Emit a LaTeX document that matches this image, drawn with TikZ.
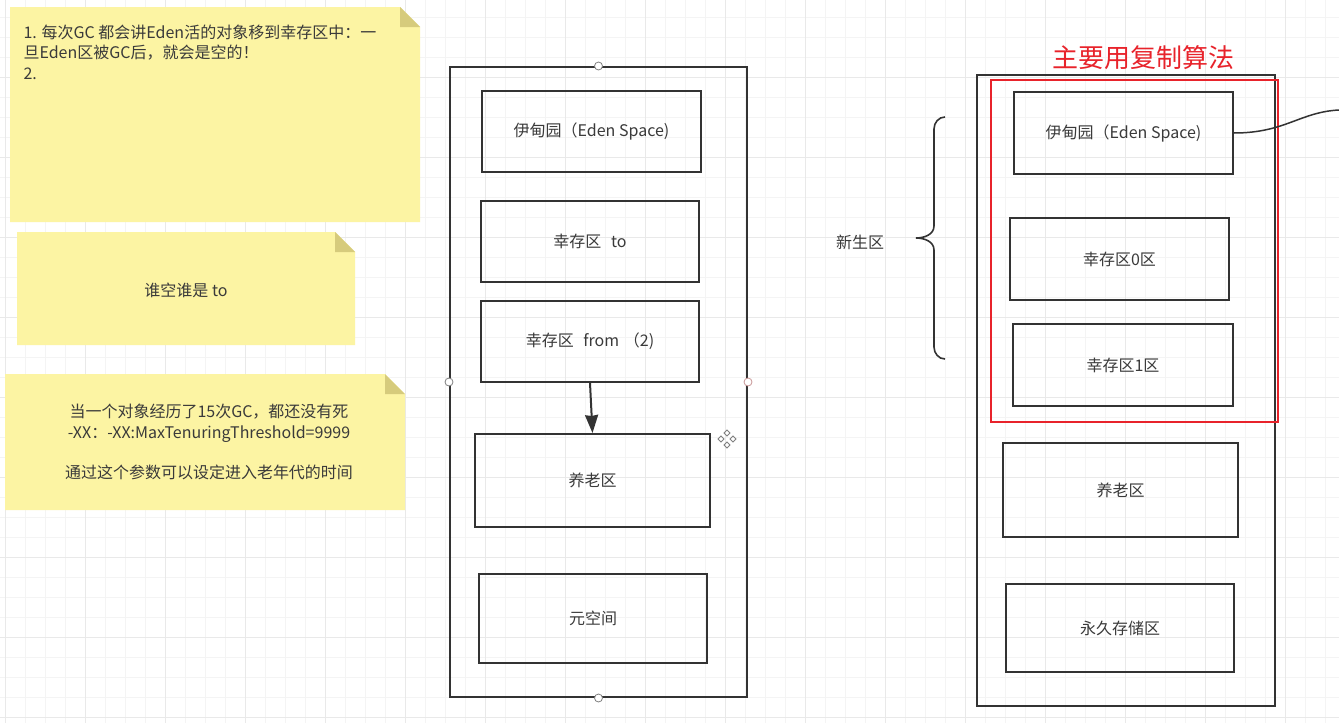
\documentclass[tikz,border=0pt]{standalone}
\usepackage{fontspec}
\setmainfont{Noto Sans CJK SC}
\usetikzlibrary{arrows.meta}
\definecolor{inkgray}{HTML}{333333}
\definecolor{textgray}{HTML}{3A3A3A}
\definecolor{notefill}{HTML}{FCF4A3}
\definecolor{notefold}{HTML}{D6CB7C}
\definecolor{markred}{HTML}{E8232B}
\definecolor{gridminor}{HTML}{F4F4F4}
\definecolor{gridmajor}{HTML}{E9E9E9}
\newcommand{\stickynote}[4]{%
  \fill[notefill] (#1,#2) -- (#3-20,#2) -- (#3,#2-20) -- (#3,#4) -- (#1,#4) -- cycle;
  \fill[notefold] (#3-20,#2) -- (#3,#2-20) -- (#3-20,#2-20) -- cycle;
}

\begin{document}
\begin{tikzpicture}[
  x=1pt, y=1pt,
  >=Stealth,
  every node/.style={text=textgray, font=\fontsize{16}{20.5}\selectfont},
  region/.style={draw=inkgray, line width=2pt, rectangle, inner sep=0pt},
  handle/.style={draw=gray, fill=white, circle, line width=0.8pt, minimum size=8pt, inner sep=0pt}
]
  \useasboundingbox (0,0) rectangle (1339,-723);
  \fill[white] (0,0) rectangle (1339,-723);

  % background grid
  \foreach \gx in {5,25,...,1339} \draw[gridminor, line width=0.8pt] (\gx,0) -- (\gx,-723);
  \foreach \gy in {17,37,...,723} \draw[gridminor, line width=0.8pt] (0,-\gy) -- (1339,-\gy);
  \foreach \gx in {5,85,...,1339} \draw[gridmajor, line width=1pt] (\gx,0) -- (\gx,-723);
  \foreach \gy in {77,157,...,723} \draw[gridmajor, line width=1pt] (0,-\gy) -- (1339,-\gy);

  % sticky notes
  \stickynote{10}{-7}{420}{-222}
  \stickynote{17}{-232}{355}{-345}
  \stickynote{5}{-374}{405}{-510}

  \node[anchor=north west, align=left] (note1) at (20,-21)
    {1. 每次GC 都会讲Eden活的对象移到幸存区中：一\\旦Eden区被GC后，就会是空的！\\2.};
  \node (note2) at (186,-290) {谁空谁是 to};
  \node[align=center] (note3) at (209,-442)
    {当一个对象经历了15次GC，都还没有死\\-XX：-XX:MaxTenuringThreshold=9999\\[20pt]通过这个参数可以设定进入老年代的时间};

  % left heap
  \node[region, minimum width=297pt, minimum height=630pt] (heapL) at (598.5,-382) {};
  \node[region, minimum width=219pt, minimum height=81pt] (edenL) at (591.5,-131.5) {伊甸园（Eden Space)};
  \node[region, minimum width=218pt, minimum height=81pt] (toL) at (590,-241.5) {幸存区\hspace{0.6em}to};
  \node[region, minimum width=218pt, minimum height=81pt] (fromL) at (590,-341.5) {幸存区\hspace{0.6em}from\hspace{0.3em}（2)};
  \node[region, minimum width=235pt, minimum height=93pt] (oldL) at (592.5,-480.5) {养老区};
  \node[region, minimum width=228pt, minimum height=89pt] (metaL) at (593,-618.5) {元空间};

  \draw[->, inkgray, line width=2pt, >={Stealth[length=18pt, width=13pt, inset=1pt]}] (fromL.south) -- (oldL.north);

  \node[handle] (hTop) at (heapL.north) {};
  \node[handle] (hBot) at (heapL.south) {};
  \node[handle] (hLeft) at (heapL.west) {};
  \node[handle, draw={rgb,255:red,200;green,150;blue,150}] (hRight) at (heapL.east) {};

  % move cursor
  \foreach \dx/\dy in {-6/0, 6/0, 0/-6, 0/6}
    \draw[gray, line width=0.8pt] (727+\dx-3,-439+\dy) -- ++(3,3) -- ++(3,-3) -- ++(-3,-3) -- cycle;

  % right heap
  \node[region, minimum width=298pt, minimum height=631pt] (heapR) at (1126,-390.5) {};
  \node[region, minimum width=219pt, minimum height=82pt] (edenR) at (1123.5,-133) {伊甸园（Eden Space)};
  \node[region, minimum width=219pt, minimum height=82pt] (s0R) at (1119.5,-259) {幸存区0区};
  \node[region, minimum width=220pt, minimum height=82pt] (s1R) at (1123,-365) {幸存区1区};
  \node[region, minimum width=235pt, minimum height=94pt] (oldR) at (1120.5,-490) {养老区};
  \node[region, minimum width=228pt, minimum height=88pt] (permR) at (1120,-628) {永久存储区};

  \node[draw=markred, line width=1.5pt, minimum width=287pt, minimum height=342pt, inner sep=0pt] (copyR) at (1134.5,-251) {};
  \node[text=markred, font=\fontsize{26}{30}\selectfont] (copyT) at (1143,-58) {主要用复制算法};

  % young generation brace
  \draw[inkgray, line width=1.6pt] (945,-117) to[out=180,in=90] (934,-129) -- (934,-226)
    to[out=-90,in=0] (916,-238) to[out=0,in=90] (934,-250) -- (934,-347)
    to[out=-90,in=180] (945,-359);
  \node (young) at (860,-242) {新生区};

  \coordinate (edgeR) at (1339,-110);
  \draw[inkgray, line width=1.5pt] (edenR.east) .. controls (1285,-133) and (1300,-112) .. (edgeR);
\end{tikzpicture}
\end{document}
